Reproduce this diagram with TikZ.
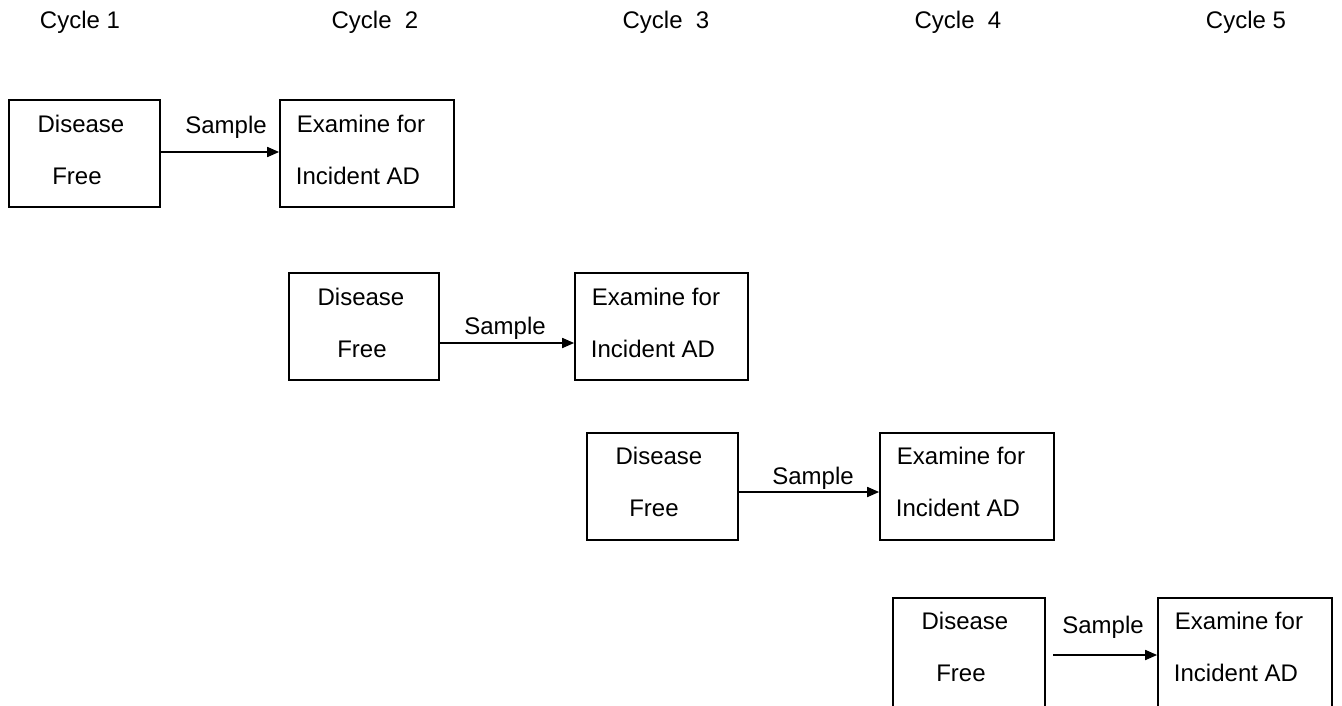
\documentclass[tikz,border=0pt]{standalone}
\usepackage{fontspec}
\setmainfont{Liberation Sans}
\usetikzlibrary{arrows.meta}
\begin{document}
\begin{tikzpicture}[x=1pt,y=-1pt,
  box/.style={draw=black,line width=1.7pt,inner sep=0pt},
  lbl/.style={inner sep=0pt,font=\fontsize{24}{28}\selectfont},
  arr/.style={line width=1.7pt,-{Triangle[length=12pt,width=10pt]}}]
\clip (0,0) rectangle (1342,705);
\fill[white] (0,0) rectangle (1342,705);
% cycle headings
\node[lbl] (c1) at (80,22) {Cycle 1};
\node[lbl] (c2) at (375,22) {Cycle\ \ 2};
\node[lbl] (c3) at (666,22) {Cycle\ \ 3};
\node[lbl] (c4) at (958,22) {Cycle\ \ 4};
\node[lbl] (c5) at (1246,22) {Cycle 5};
% row 1
\node[box,minimum width=151pt,minimum height=107pt] (a1) at (84.5,153.5) {};
\node[box,minimum width=174pt,minimum height=107pt] (b1) at (367,153.5) {};
\node[lbl] (a1t) at (81,124) {Disease};
\node[lbl] (a1b) at (77,176) {Free};
\node[lbl] (b1t) at (361,124) {Examine for};
\node[lbl] (b1b) at (358,176) {Incident AD};
\coordinate (p1) at (160,152);
\draw[arr] (p1) -- (p1 -| b1.west);
\node[lbl] (s1) at (226,127) {Sample};
% row 2
\node[box,minimum width=150pt,minimum height=107pt] (a2) at (364,326.5) {};
\node[box,minimum width=173pt,minimum height=107pt] (b2) at (661.5,326.5) {};
\node[lbl] (a2t) at (361,297) {Disease};
\node[lbl] (a2b) at (362,349) {Free};
\node[lbl] (b2t) at (656,297) {Examine for};
\node[lbl] (b2b) at (653,349) {Incident AD};
\coordinate (p2) at (439,343);
\draw[arr] (p2) -- (p2 -| b2.west);
\node[lbl] (s2) at (505,328) {Sample};
% row 3
\node[box,minimum width=151pt,minimum height=107pt] (a3) at (662.5,486.5) {};
\node[box,minimum width=174pt,minimum height=107pt] (b3) at (967,486.5) {};
\node[lbl] (a3t) at (659,456) {Disease};
\node[lbl] (a3b) at (654,508) {Free};
\node[lbl] (b3t) at (961,456) {Examine for};
\node[lbl] (b3b) at (958,508) {Incident AD};
\coordinate (p3) at (738,492);
\draw[arr] (p3) -- (p3 -| b3.west);
\node[lbl] (s3) at (813,478) {Sample};
% row 4 (cut off at the bottom edge)
\node[box,minimum width=152pt,minimum height=120pt] (a4) at (969,658) {};
\node[box,minimum width=174pt,minimum height=120pt] (b4) at (1245,658) {};
\node[lbl] (a4t) at (965,621) {Disease};
\node[lbl] (a4b) at (961,673) {Free};
\node[lbl] (b4t) at (1239,621) {Examine for};
\node[lbl] (b4b) at (1236,673) {Incident AD};
\coordinate (p4) at (1053,655);
\draw[arr] (p4) -- (p4 -| b4.west);
\node[lbl] (s4) at (1103,627) {Sample};
\end{tikzpicture}
\end{document}
